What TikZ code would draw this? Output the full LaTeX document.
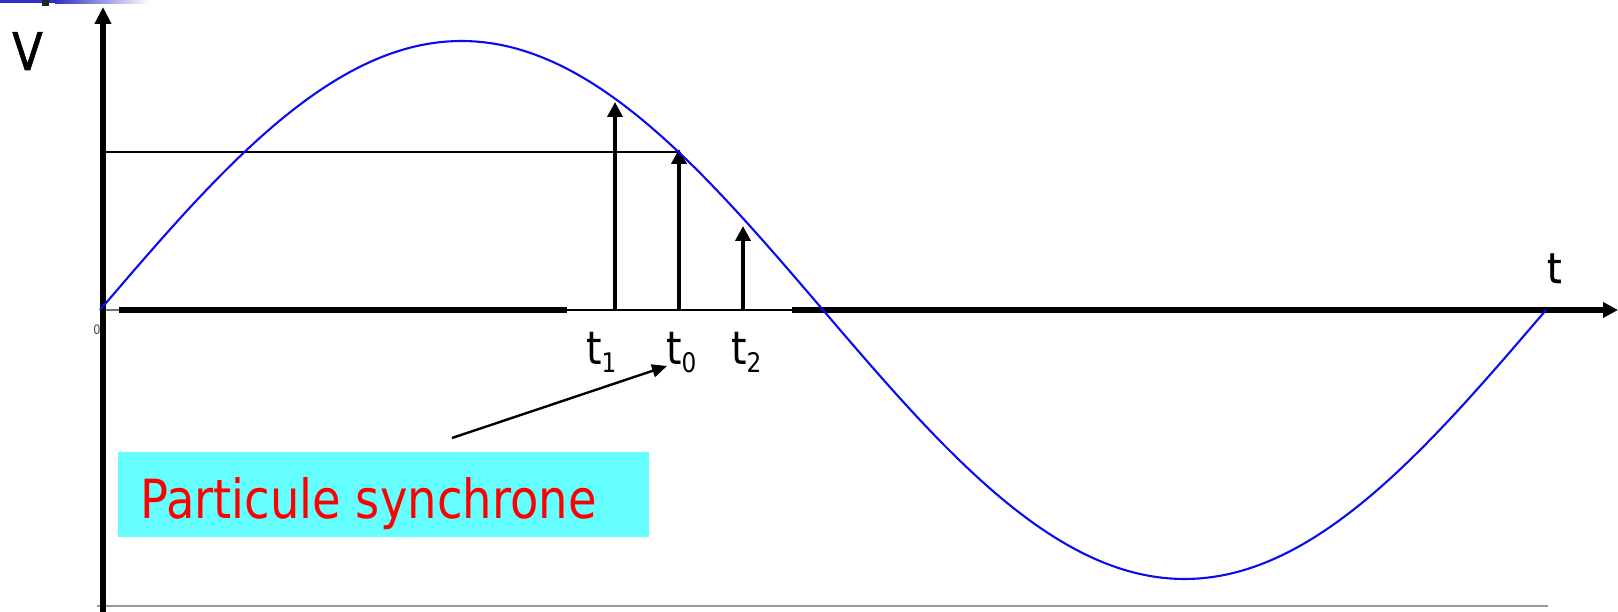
\documentclass[tikz,border=0pt]{standalone}
\usepackage{fontspec}
\setmainfont[FakeStretch=0.86]{DejaVu Sans}
\newfontfamily\heavyfont[FakeStretch=0.86,FakeBold=1.2]{DejaVu Sans}
\usetikzlibrary{arrows.meta}
\definecolor{boxcyan}{HTML}{66FFFF}
\definecolor{sineblue}{HTML}{0A0AF5}
\definecolor{barblue}{HTML}{3030C8}
\tikzset{
  axis/.style={line width=5.5pt},
  stem/.style={line width=3.6pt,-{Triangle[length=15pt,width=15pt]}},
  thin/.style={line width=2pt},
  lbl/.style={inner sep=0pt,anchor=base west},
  sine/.style={sineblue,line width=2.1pt},
}
\newcommand{\fsz}[1]{\fontsize{#1}{#1}\selectfont}
\begin{document}
\begin{tikzpicture}[x=1pt,y=-1pt]
\useasboundingbox (0,0) rectangle (1618,612);
% slide decoration
\fill[barblue] (0,0) rectangle (55,3.5);
\shade[left color=barblue,right color=white] (55,0) rectangle (150,3.5);
\fill[black!85] (42,0) rectangle (49,6);
% box and text
\node[fill=boxcyan,inner sep=0pt,minimum width=531pt,minimum height=85pt,anchor=north west] (box) at (118,452) {};
\node[lbl,text=red] (ps) at (140,518) {\fsz{54}Particule synchrone};
% small origin label
\node[inner sep=0pt,text=black!70] (zero) at (97,330) {\fsz{13}0};
% labels
\node[lbl] (V) at (12,70) {\heavyfont\fsz{52}V};
\node[lbl] (tl) at (1547,283) {\heavyfont\fsz{42}t};
\node[lbl] (t1) at (586,365) {\fsz{46}t\raisebox{-8pt}{\fsz{27}1}};
\node[lbl] (t0) at (666,365) {\fsz{46}t\raisebox{-8pt}{\fsz{27}0}};
\node[lbl] (t2) at (731,365) {\fsz{46}t\raisebox{-8pt}{\fsz{27}2}};
% coordinates
\coordinate (O) at (103,310);
\coordinate (Ybot) at (103,612);
\coordinate (Ytop) at (103,7);
\coordinate (Xa) at (100,310);
\coordinate (Xb) at (119,310);
\coordinate (Xc) at (567,310);
\coordinate (Xd) at (792,310);
\coordinate (Xend) at (1618,310);
\coordinate (H0) at (103,152);
\coordinate (H1) at (679,152);
\coordinate (A1) at (615,310);
\coordinate (A1t) at (615,102);
\coordinate (A0) at (679,310);
\coordinate (A0t) at (679,149);
\coordinate (A2) at (743,310);
\coordinate (A2t) at (743,226);
\coordinate (Ps) at (452,438);
\coordinate (Pe) at (667,366);
\coordinate (G1) at (97,606);
\coordinate (G2) at (1548,606);
% bottom gray line
\draw[black!40,line width=1.5pt] (G1) -- (G2);
% horizontal level line
\draw[thin] (H0) -- (H1);
% thin axis
\draw[black!55,line width=1.8pt] (Xa) -- (Xb);
\draw[thin] (Xb) -- (Xd);
% thick axis pieces
\draw[axis] (Xb) -- (Xc);
\draw[axis,-{Triangle[length=15pt,width=15pt]}] (Xd) -- (Xend);
% vertical axis
\draw[axis,-{Triangle[length=17pt,width=16pt]}] (Ybot) -- (Ytop);
% stems
\draw[stem] (A1) -- (A1t);
\draw[stem] (A0) -- (A0t);
\draw[stem] (A2) -- (A2t);
% pointer
\draw[line width=2.4pt,-{Triangle[length=15pt,width=13pt]}] (Ps) -- (Pe);
% sine
\draw[sine] plot[domain=100:1546,samples=240,smooth] (\x,{310-269*sin((\x-100)/1446*360)});
\end{tikzpicture}
\end{document}
